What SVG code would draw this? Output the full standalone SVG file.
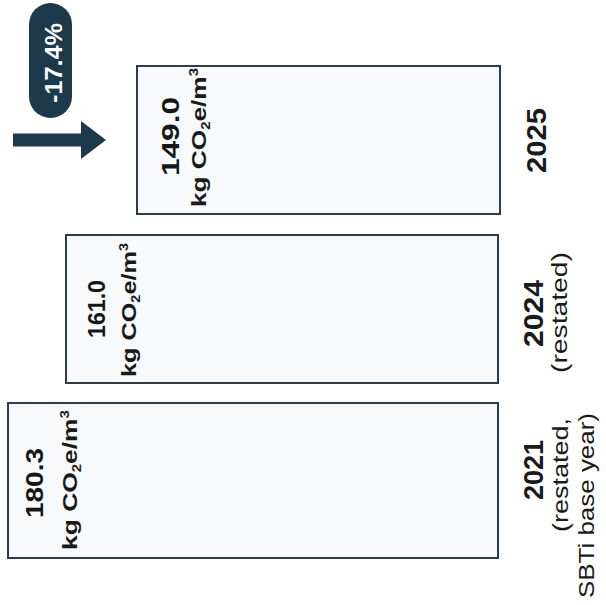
<svg xmlns="http://www.w3.org/2000/svg" width="606" height="605" viewBox="0 0 606 605">
<style>
.bar{fill:#f7f9fb;stroke:#2c3d49;stroke-width:2}
.val{font-family:"Liberation Sans",Arial,sans-serif;font-weight:bold;font-size:24px;fill:#161616}
.unit{font-family:"Liberation Sans",Arial,sans-serif;font-weight:bold;font-size:21px;fill:#1a1a1a}
.yr{font-family:"Liberation Sans",Arial,sans-serif;font-weight:bold;font-size:27px;fill:#1a1a1a}
.sub{font-family:"Liberation Sans",Arial,sans-serif;font-size:22px;fill:#1a1a1a}
.pct{font-family:"Liberation Sans",Arial,sans-serif;font-weight:bold;font-size:23px;fill:#ffffff}
</style>
<rect width="606" height="605" fill="#ffffff"/>
<g id="change">
<rect x="29" y="3" width="43" height="115" rx="21.5" fill="#1d3a4d"/>
<text class="pct" transform="translate(62,103) rotate(-90)" textLength="80" lengthAdjust="spacingAndGlyphs">-17.4%</text>
</g>
<g id="connectors">
<path d="M13,133.5 H81 V121 L106,140 L81,159 V146.5 H13 Z" fill="#1d3a4d"/>
</g>
<g id="bar2025">
<rect class="bar" x="137" y="66" width="363" height="148"/>
<text class="val" transform="translate(179,176) rotate(-90)" textLength="79" lengthAdjust="spacingAndGlyphs">149.0</text>
<text class="unit" transform="translate(206,207) rotate(-90)" textLength="139" lengthAdjust="spacingAndGlyphs">kg CO<tspan font-size="12" dy="4">2</tspan><tspan dy="-4">e/m</tspan><tspan font-size="12" dy="-8">3</tspan></text>
<text class="yr" transform="translate(546,173) rotate(-90)" textLength="65" lengthAdjust="spacingAndGlyphs">2025</text>
</g>
<g id="bar2024">
<rect class="bar" x="66" y="235" width="432" height="148"/>
<text class="val" transform="translate(105,338) rotate(-90)" textLength="58" lengthAdjust="spacingAndGlyphs">161.0</text>
<text class="unit" transform="translate(136,377) rotate(-90)" textLength="134" lengthAdjust="spacingAndGlyphs">kg CO<tspan font-size="12" dy="4">2</tspan><tspan dy="-4">e/m</tspan><tspan font-size="12" dy="-8">3</tspan></text>
<text class="yr" transform="translate(543,347) rotate(-90)" textLength="67" lengthAdjust="spacingAndGlyphs">2024</text>
<text class="sub" transform="translate(567,373) rotate(-90)" textLength="121" lengthAdjust="spacingAndGlyphs">(restated)</text>
</g>
<g id="bar2021">
<rect class="bar" x="8" y="403" width="490" height="155"/>
<text class="val" transform="translate(43,518) rotate(-90)" textLength="70" lengthAdjust="spacingAndGlyphs">180.3</text>
<text class="unit" transform="translate(77,550) rotate(-90)" textLength="140" lengthAdjust="spacingAndGlyphs">kg CO<tspan font-size="12" dy="4">2</tspan><tspan dy="-4">e/m</tspan><tspan font-size="12" dy="-8">3</tspan></text>
<text class="yr" transform="translate(543,500) rotate(-90)" textLength="60" lengthAdjust="spacingAndGlyphs">2021</text>
<text class="sub" transform="translate(568,532) rotate(-90)" textLength="114" lengthAdjust="spacingAndGlyphs">(restated,</text>
<text class="sub" transform="translate(594,598) rotate(-90)" textLength="185" lengthAdjust="spacingAndGlyphs">SBTi base year)</text>
</g>
</svg>
